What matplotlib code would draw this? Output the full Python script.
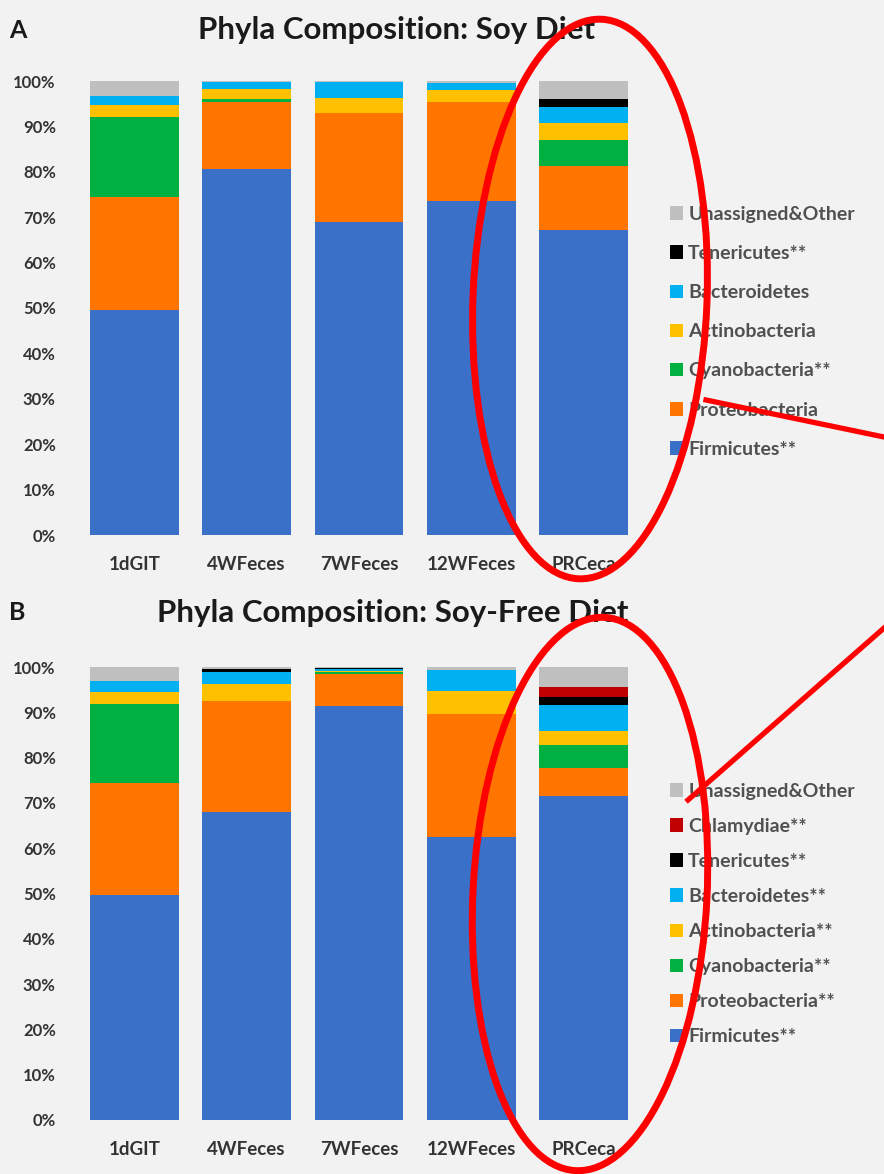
import matplotlib
matplotlib.use('Agg')
import matplotlib.pyplot as plt
from matplotlib.patches import Ellipse, Patch
from matplotlib.lines import Line2D
from matplotlib.ticker import PercentFormatter
import numpy as np

plt.rcParams['font.family'] = ['Lato', 'DejaVu Sans']

# categories (x axis)
samples = ['1dGIT', '4WFeces', '7WFeces', '12WFeces', 'PRCeca']

# phyla stacked bottom -> top
phyla = ['Firmicutes', 'Proteobacteria', 'Cyanobacteria', 'Actinobacteria',
         'Bacteroidetes', 'Tenericutes', 'Chlamydiae', 'Unassigned&Other']
colors = ['#3A70C8', '#FF7500', '#00B040', '#FFC000',
          '#00B0F0', '#000000', '#C00000', '#BFBFBF']

# panel A: soy diet (% of reads)
soy_firmicutes = [49.5, 80.6, 68.9, 73.6, 67.2]
soy_proteobacteria = [24.9, 14.8, 24.1, 21.8, 14.1]
soy_cyanobacteria = [17.6, 0.6, 0.0, 0.0, 5.7]
soy_actinobacteria = [2.7, 2.2, 3.3, 2.6, 3.8]
soy_bacteroidetes = [2.0, 1.5, 3.4, 1.5, 3.5]
soy_tenericutes = [0.0, 0.0, 0.0, 0.0, 1.7]
soy_chlamydiae = [0.0, 0.0, 0.0, 0.0, 0.0]
soy_other = [3.3, 0.3, 0.3, 0.5, 4.0]

# panel B: soy-free diet (% of reads)
free_firmicutes = [49.6, 68.1, 91.3, 62.4, 71.6]
free_proteobacteria = [24.7, 24.5, 7.2, 27.2, 6.1]
free_cyanobacteria = [17.6, 0.0, 0.3, 0.0, 5.1]
free_actinobacteria = [2.5, 3.7, 0.3, 5.0, 3.0]
free_bacteroidetes = [2.5, 2.7, 0.5, 4.7, 5.8]
free_tenericutes = [0.0, 0.5, 0.1, 0.0, 1.8]
free_chlamydiae = [0.0, 0.0, 0.0, 0.0, 2.2]
free_other = [3.1, 0.5, 0.3, 0.7, 4.4]

soy_legend = ['Unassigned&Other', 'Tenericutes**', 'Bacteroidetes', 'Actinobacteria',
              'Cyanobacteria**', 'Proteobacteria', 'Firmicutes**']
free_legend = ['Unassigned&Other', 'Chlamydiae**', 'Tenericutes**', 'Bacteroidetes**',
               'Actinobacteria**', 'Cyanobacteria**', 'Proteobacteria**', 'Firmicutes**']

soy = [soy_firmicutes, soy_proteobacteria, soy_cyanobacteria, soy_actinobacteria,
       soy_bacteroidetes, soy_tenericutes, soy_chlamydiae, soy_other]
free = [free_firmicutes, free_proteobacteria, free_cyanobacteria, free_actinobacteria,
        free_bacteroidetes, free_tenericutes, free_chlamydiae, free_other]

bg = '#F2F2F2'
txt = '#333333'
W, H = 884, 1174
fig = plt.figure(figsize=(W / 100, H / 100), dpi=100, facecolor=bg)


def panel(rect, data, legend_labels, legend_colors, leg_y, spacing):
    ax = fig.add_axes(rect)
    ax.set_facecolor(bg)
    x = np.arange(len(samples))
    bottom = np.zeros(len(samples))
    for vals, c in zip(data, colors):
        v = np.array(vals) / 100.0
        ax.bar(x, v, width=0.79, bottom=bottom, color=c, edgecolor='none')
        bottom += v
    ax.set_xlim(-0.5, len(samples) - 0.5)
    ax.set_ylim(0, 1)
    ax.set_yticks(np.arange(0, 1.01, 0.1))
    ax.yaxis.set_major_formatter(PercentFormatter(1.0, decimals=0))
    ax.set_xticks(x)
    ax.set_xticklabels(samples)
    ax.tick_params(axis='x', length=0, labelsize=13.5, labelcolor=txt, pad=15)
    ax.tick_params(axis='y', length=0, labelsize=12, labelcolor=txt, pad=16)
    for lab in ax.get_xticklabels() + ax.get_yticklabels():
        lab.set_fontweight('bold')
    for s in ax.spines.values():
        s.set_visible(False)
    handles = [Patch(facecolor=c, edgecolor='none') for c in legend_colors]
    fig.legend(handles, legend_labels, loc='upper left',
               bbox_to_anchor=(662 / W, 1 - leg_y / H), frameon=False,
               prop={'weight': 'bold', 'size': 14}, labelcolor='#505050',
               handlelength=0.7, handleheight=0.7, handletextpad=0.25,
               labelspacing=spacing, borderaxespad=0)
    return ax


panel([78 / W, 1 - 535 / H, 562 / W, 454 / H], soy, soy_legend,
      ['#BFBFBF', '#000000', '#00B0F0', '#FFC000', '#00B040', '#FF7500', '#3A70C8'],
      198, 1.14)
panel([78 / W, 1 - 1120 / H, 562 / W, 453 / H], free, free_legend,
      ['#BFBFBF', '#C00000', '#000000', '#00B0F0', '#FFC000', '#00B040', '#FF7500', '#3A70C8'],
      775, 0.93)

fig.text(9 / W, 1 - 30 / H, 'A', fontsize=18, fontweight='bold', color='#1a1a1a', va='center')
fig.text(397 / W, 1 - 30 / H, 'Phyla Composition: Soy Diet', fontsize=22.5,
         fontweight='bold', color='#1a1a1a', ha='center', va='center')
fig.text(9 / W, 1 - 613 / H, 'B', fontsize=18, fontweight='bold', color='#1a1a1a', va='center')
fig.text(393 / W, 1 - 613 / H, 'Phyla Composition: Soy-Free Diet', fontsize=22.5,
         fontweight='bold', color='#1a1a1a', ha='center', va='center')

# red highlight annotations
t = fig.dpi_scale_trans
fig.patches.append(Ellipse((5.90, (H - 299) / 100), 2.34, 5.60, angle=-2.3,
                           fill=False, edgecolor='red', lw=5, transform=t, zorder=10))
fig.patches.append(Ellipse((5.90, (H - 894) / 100), 2.34, 5.54, angle=-3,
                           fill=False, edgecolor='red', lw=5, transform=t, zorder=10))
fig.lines.append(Line2D([7.06, 8.84], [(H - 400) / 100, (H - 437) / 100],
                        color='red', lw=3.8, transform=t, zorder=10))
fig.lines.append(Line2D([6.88, 8.84], [(H - 800) / 100, (H - 628) / 100],
                        color='red', lw=3.8, transform=t, zorder=10))

fig.savefig('out.png', dpi=100, facecolor=bg)
